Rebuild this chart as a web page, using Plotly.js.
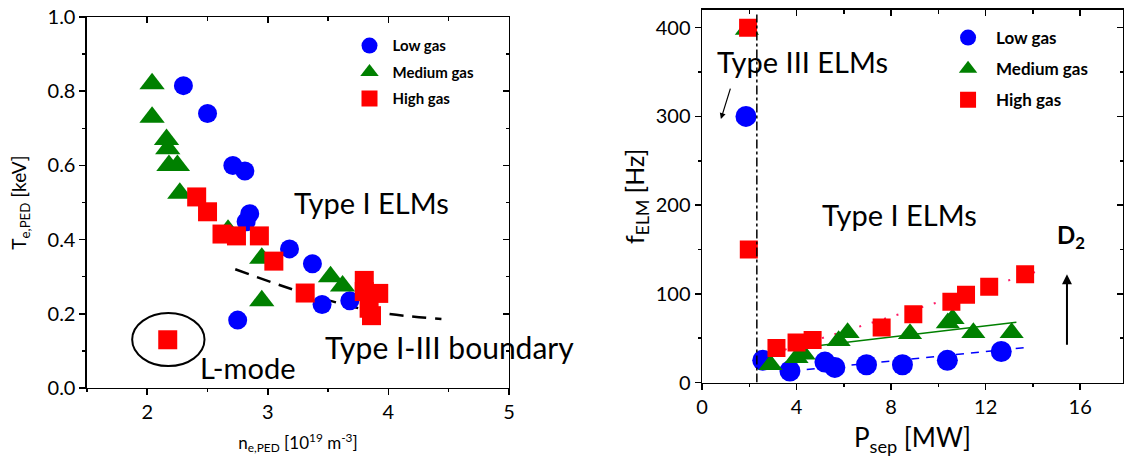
<!DOCTYPE html>
<html>
<head>
<meta charset="utf-8">
<script src="https://cdn.plot.ly/plotly-3.0.1.min.js"></script>
<style>html,body{margin:0;padding:0;background:#fff;}#chart{width:1125px;height:465px;}</style>
</head>
<body>
<div id="chart"></div>
<script>
// ---------- Left panel: T_e,PED vs n_e,PED ----------
const lowN  = [2.30, 2.50, 2.71, 2.81, 2.85, 2.82, 3.18, 3.37, 3.45, 3.68, 2.75];
const lowT  = [0.815, 0.740, 0.600, 0.585, 0.470, 0.448, 0.375, 0.335, 0.225, 0.235, 0.183];
const medN  = [2.04, 2.04, 2.16, 2.17, 2.18, 2.25, 2.27, 2.67, 2.95, 2.95, 3.52, 3.62];
const medT  = [0.820, 0.730, 0.670, 0.645, 0.600, 0.600, 0.525, 0.425, 0.350, 0.235, 0.300, 0.275];
const highN = [2.17, 2.41, 2.50, 2.62, 2.74, 2.93, 3.05, 3.31, 3.80, 3.80, 3.92, 3.84, 3.86];
const highT = [0.130, 0.515, 0.475, 0.415, 0.410, 0.410, 0.342, 0.256, 0.290, 0.260, 0.255, 0.215, 0.195];
const boundaryN = [2.73, 3.33, 3.90, 4.44];
const boundaryT = [0.320, 0.253, 0.205, 0.186];

// ---------- Right panel: f_ELM vs P_sep ----------
const lowP  = [1.86, 2.57, 3.72, 5.20, 5.62, 6.96, 8.48, 10.38, 12.66];
const lowF  = [300, 25, 13, 23, 17, 20, 20, 25, 35];
const medP  = [1.90, 2.90, 4.00, 4.30, 5.78, 6.16, 8.80, 10.40, 10.60, 11.48, 13.10];
const medF  = [398, 20, 28, 32, 47, 56, 55, 67, 72, 56, 56];
const highP = [1.95, 1.98, 3.15, 4.00, 4.68, 7.60, 8.94, 10.55, 11.17, 12.15, 13.67];
const highF = [400, 150, 39, 45, 48, 62, 77, 91, 99, 108, 122];
const lowFitP  = [3.8, 13.9];  const lowFitF  = [13, 40];
const medFitP  = [3.8, 13.3];  const medFitF  = [38, 68];
const highFitP = [3.5, 14.4];  const highFitF = [37, 127];
const typeIIILimitP = 2.32;

const seriesNames = ['Low gas', 'Medium gas', 'High gas'];
const BLUE = '#0000ff', GREEN = '#008000', RED = '#ff0000';
const FONT = 'Lato, "Open Sans", sans-serif';

const traces = [
  // left panel
  {x: boundaryN, y: boundaryT, xaxis: 'x', yaxis: 'y', mode: 'lines', line: {color: '#000', width: 2.5, dash: '14px,9px', shape: 'spline'}, showlegend: false, hoverinfo: 'skip'},
  {x: lowN, y: lowT, xaxis: 'x', yaxis: 'y', mode: 'markers', name: seriesNames[0], legend: 'legend', legendgroup: 'a',
   marker: {symbol: 'circle', size: 19, color: BLUE}},
  {x: medN, y: medT, xaxis: 'x', yaxis: 'y', mode: 'markers', name: seriesNames[1], legend: 'legend', legendgroup: 'b',
   marker: {symbol: 'triangle-up', size: 22, color: GREEN}},
  {x: highN, y: highT, xaxis: 'x', yaxis: 'y', mode: 'markers', name: seriesNames[2], legend: 'legend', legendgroup: 'c',
   marker: {symbol: 'square', size: 19, color: RED}},
  // right panel fits
  {x: lowFitP, y: lowFitF, xaxis: 'x2', yaxis: 'y2', mode: 'lines', line: {color: BLUE, width: 1.5, dash: '8px,7px'}, showlegend: false, hoverinfo: 'skip'},
  {x: medFitP, y: medFitF, xaxis: 'x2', yaxis: 'y2', mode: 'lines', line: {color: GREEN, width: 1.5}, showlegend: false, hoverinfo: 'skip'},
  {x: highFitP, y: highFitF, xaxis: 'x2', yaxis: 'y2', mode: 'lines', line: {color: '#ff1a66', width: 2, dash: '2px,11px'}, showlegend: false, hoverinfo: 'skip'},
  // right panel markers
  {x: lowP, y: lowF, xaxis: 'x2', yaxis: 'y2', mode: 'markers', name: seriesNames[0], legend: 'legend2', legendgroup: 'd',
   marker: {symbol: 'circle', size: 21, color: BLUE}},
  {x: medP, y: medF, xaxis: 'x2', yaxis: 'y2', mode: 'markers', name: seriesNames[1], legend: 'legend2', legendgroup: 'e',
   marker: {symbol: 'triangle-up', size: 21, color: GREEN}},
  {x: highP, y: highF, xaxis: 'x2', yaxis: 'y2', mode: 'markers', name: seriesNames[2], legend: 'legend2', legendgroup: 'f',
   marker: {symbol: 'square', size: 18, color: RED}},
  // empty traces for mirrored (inside-tick) axes
  {x: [], y: [], xaxis: 'x3', yaxis: 'y3', showlegend: false, hoverinfo: 'skip'},
  {x: [], y: [], xaxis: 'x4', yaxis: 'y4', showlegend: false, hoverinfo: 'skip'}
];

const axBase = {showgrid: false, zeroline: false, showline: true, linecolor: '#000', linewidth: 1.5,
  tickcolor: '#000', tickwidth: 1.5, ticklen: 6, ticks: 'outside', tickfont: {family: FONT, size: 20, color: '#000'}};
const mirBase = {showgrid: false, zeroline: false, showline: true, linecolor: '#000', linewidth: 1.5,
  tickcolor: '#000', tickwidth: 1.5, ticklen: 6, ticks: 'inside', showticklabels: false};

const L_DOM_X = [0.0773, 0.4524], L_DOM_Y = [0.1656, 0.9634];
const R_DOM_X = [0.624, 0.998],  R_DOM_Y = [0.1774, 0.9785];
const L_RX = [1.5, 5], L_RY = [0, 1];
const R_RX = [0, 17.8], R_RY = [0, 420];

const layout = {
  width: 1125, height: 465,
  margin: {l: 0, r: 0, t: 0, b: 0},
  paper_bgcolor: '#fff', plot_bgcolor: 'rgba(0,0,0,0)',
  font: {family: FONT, color: '#000'},
  xaxis: Object.assign({}, axBase, {domain: L_DOM_X, range: L_RX, anchor: 'y', tick0: 0, dtick: 1,
    minor: {dtick: 0.5, tick0: 0, ticks: 'outside', ticklen: 3, tickwidth: 1.5, tickcolor: '#000'},
    title: {text: 'n<sub>e,PED</sub> [10<sup>19</sup> m<sup>-3</sup>]', font: {family: FONT, size: 17}, standoff: 14}}),
  yaxis: Object.assign({}, axBase, {domain: L_DOM_Y, range: L_RY, anchor: 'x', tick0: 0, dtick: 0.2, tickformat: '.1f',
    minor: {dtick: 0.1, tick0: 0, ticks: 'outside', ticklen: 3, tickwidth: 1.5, tickcolor: '#000'},
    title: {text: 'T<sub>e,PED</sub> [keV]', font: {family: FONT, size: 19}, standoff: 16}}),
  xaxis3: Object.assign({}, mirBase, {overlaying: 'x', anchor: 'y3', side: 'top', range: L_RX, tick0: 0, dtick: 1,
    minor: {dtick: 0.5, tick0: 0, ticks: 'inside', ticklen: 4, tickwidth: 1.5, tickcolor: '#000'}}),
  yaxis3: Object.assign({}, mirBase, {overlaying: 'y', anchor: 'x3', side: 'right', range: L_RY, tick0: 0, dtick: 0.2,
    minor: {dtick: 0.1, tick0: 0, ticks: 'inside', ticklen: 3, tickwidth: 1.5, tickcolor: '#000'}}),

  xaxis2: Object.assign({}, axBase, {domain: R_DOM_X, range: R_RX, anchor: 'y2', tick0: 0, dtick: 4,
    minor: {dtick: 2, tick0: 0, ticks: 'outside', ticklen: 3, tickwidth: 1.5, tickcolor: '#000'},
    title: {text: 'P<sub>sep</sub> [MW]', font: {family: FONT, size: 26}, standoff: 12}}),
  yaxis2: Object.assign({}, axBase, {domain: R_DOM_Y, range: R_RY, anchor: 'x2', tick0: 0, dtick: 100,
    minor: {dtick: 50, tick0: 0, ticks: 'outside', ticklen: 3, tickwidth: 1.5, tickcolor: '#000'},
    title: {text: 'f<sub>ELM</sub> [Hz]', font: {family: FONT, size: 25}, standoff: 4}}),
  xaxis4: Object.assign({}, mirBase, {overlaying: 'x2', anchor: 'y4', side: 'top', range: R_RX, tick0: 0, dtick: 4,
    minor: {dtick: 2, tick0: 0, ticks: 'inside', ticklen: 4, tickwidth: 1.5, tickcolor: '#000'}}),
  yaxis4: Object.assign({}, mirBase, {overlaying: 'y2', anchor: 'x4', side: 'right', range: R_RY, tick0: 0, dtick: 100,
    minor: {dtick: 50, tick0: 0, ticks: 'inside', ticklen: 3, tickwidth: 1.5, tickcolor: '#000'}}),

  legend: {x: 0.308, y: 0.937, xanchor: 'left', yanchor: 'top', bgcolor: 'rgba(0,0,0,0)', itemwidth: 36,
    tracegroupgap: 4, font: {family: FONT, size: 15, weight: 'bold', color: '#000'}},
  legend2: {x: 0.8356, y: 0.957, xanchor: 'left', yanchor: 'top', bgcolor: 'rgba(0,0,0,0)', itemwidth: 46,
    tracegroupgap: 6, font: {family: FONT, size: 17, weight: 'bold', color: '#000'}},

  shapes: [
    {type: 'circle', xref: 'x', yref: 'y', x0: 1.875, x1: 2.475, y0: 0.059, y1: 0.202, line: {color: '#000', width: 2}},
    {type: 'line', xref: 'x2', yref: 'y2', x0: typeIIILimitP, x1: typeIIILimitP, y0: 0, y1: 415, line: {color: '#000', width: 1.5, dash: 'dashdot'}}
  ],
  annotations: [
    {xref: 'x', yref: 'y', x: 3.86, y: 0.50, text: 'Type I ELMs', showarrow: false, font: {family: FONT, size: 29}},
    {xref: 'x', yref: 'y', x: 4.51, y: 0.11, text: 'Type I-III boundary', showarrow: false, font: {family: FONT, size: 30}},
    {xref: 'x', yref: 'y', x: 2.83, y: 0.054, text: 'L-mode', showarrow: false, font: {family: FONT, size: 29}},
    {xref: 'x2', yref: 'y2', x: 4.26, y: 362, text: 'Type III ELMs', showarrow: false, font: {family: FONT, size: 29}},
    {xref: 'x2', yref: 'y2', x: 8.35, y: 189, text: 'Type I ELMs', showarrow: false, font: {family: FONT, size: 29}},
    {xref: 'x2', yref: 'y2', x: 15.6, y: 165, text: '<b>D<sub>2</sub></b>', showarrow: false, font: {family: FONT, size: 24}},
    {xref: 'x2', yref: 'y2', axref: 'x2', ayref: 'y2', x: 0.8, y: 297, ax: 1.22, ay: 333, text: '', showarrow: true,
     arrowhead: 2, arrowsize: 1, arrowwidth: 1.2, arrowcolor: '#000'},
    {xref: 'x2', yref: 'y2', axref: 'x2', ayref: 'y2', x: 15.44, y: 122, ax: 15.44, ay: 41, text: '', showarrow: true,
     arrowhead: 2, arrowsize: 1, arrowwidth: 2, arrowcolor: '#000'}
  ]
};

Plotly.newPlot('chart', traces, layout, {staticPlot: true, displayModeBar: false});
</script>
</body>
</html>
